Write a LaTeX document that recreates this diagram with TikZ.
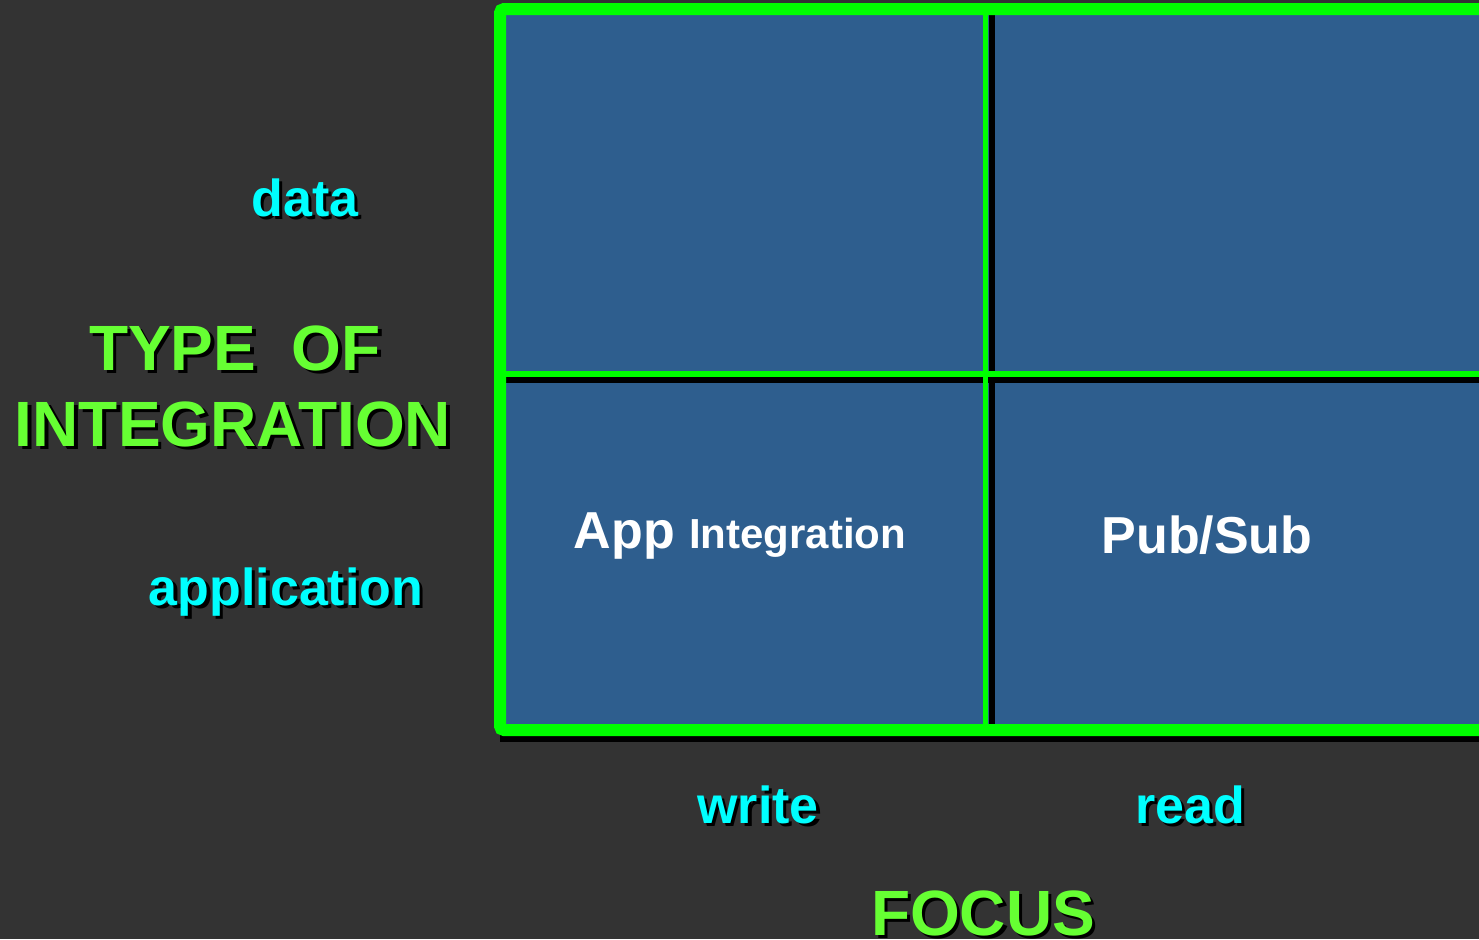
\documentclass[tikz,border=0pt]{standalone}
\usepackage{fontspec}
\setmainfont{Liberation Sans}
\usepackage{xcolor}
\usetikzlibrary{positioning}

\definecolor{bgdark}{HTML}{333333}
\definecolor{cellblue}{HTML}{2E5E8E}
\definecolor{gridgreen}{HTML}{00FF00}
\definecolor{titlegreen}{HTML}{66FF33}
\definecolor{axiscyan}{HTML}{00FFFF}

\newcommand{\shadowed}[1]{\rlap{\kern1.7pt\raisebox{-1.7pt}{\color{black}#1}}#1}

\tikzset{
  axis label/.style={text=axiscyan, font=\bfseries\fontsize{26}{30}\selectfont, anchor=base, inner sep=0},
  axis title/.style={text=titlegreen, font=\bfseries\fontsize{32}{38}\selectfont, anchor=base, inner sep=0},
  cell label/.style={text=white, font=\bfseries\fontsize{26}{30}\selectfont, anchor=base, inner sep=0},
}

\begin{document}
\begin{tikzpicture}[x=0.5pt, y=-0.5pt]

  \fill[bgdark] (0,0) rectangle (1479,939);
  \useasboundingbox (0,0) rectangle (1479,939);
  \clip (0,0) rectangle (1479,939);

  \coordinate (nw) at (500,9);
  \coordinate (se) at (1520,730);

  % cells, shadows, then the green grid
  \fill[cellblue] (nw) rectangle (se);
  \draw[black, line width=3pt] (991.5,15) -- (991.5,730);
  \draw[black, line width=3pt] (506,379.5) -- (1520,379.5);
  \draw[black, line width=6pt] (500,736) -- (1520,736);
  \draw[gridgreen, line width=2.5pt] (985.5,9) -- (985.5,730);
  \draw[gridgreen, line width=3pt] (500,373.5) -- (1520,373.5);
  \draw[gridgreen, line width=6pt, rounded corners=2pt] (1520,9) -- (nw) -- (500,730) -- (1520,730);

  \node[axis label] (data) at (305,216) {\shadowed{data}};
  \node[axis label] (application) at (286,605) {\shadowed{application}};
  \node[axis title] (type) at (235,370) {\shadowed{TYPE\ \ OF}};
  \node[axis title] (integration) at (233,446) {\shadowed{INTEGRATION}};

  \node[axis label] (write) at (758,823) {\shadowed{write}};
  \node[axis label] (read) at (1190,823) {\shadowed{read}};
  \node[axis title] (focus) at (983,935) {\shadowed{FOCUS}};

  \node[cell label] (app) at (740,548) {App {\fontsize{21}{25}\selectfont Integration}};
  \node[cell label] (pubsub) at (1207,553) {Pub/Sub};
\end{tikzpicture}
\end{document}
